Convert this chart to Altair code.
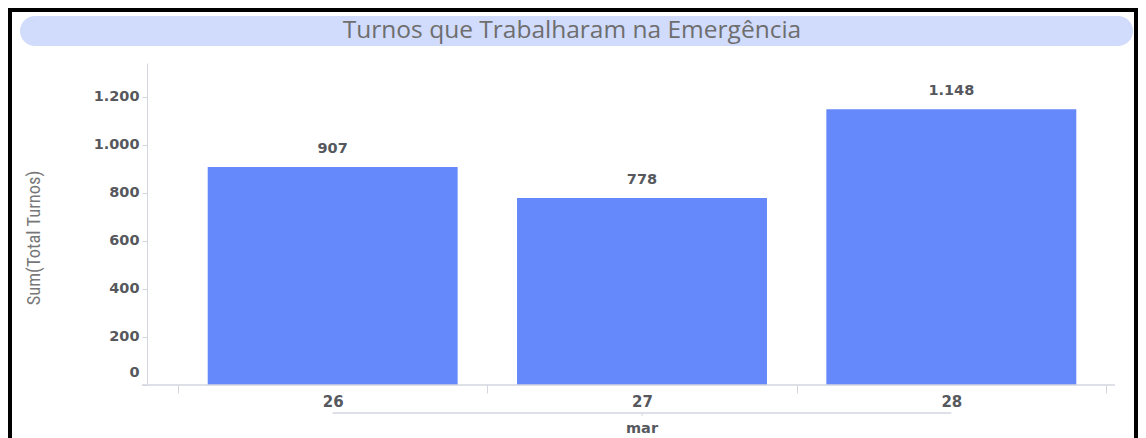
import altair as alt
import pandas as pd

# ---- data ----
DAYS = ["26", "27", "28"]
VALUES = [907, 778, 1148]
MONTH = "mar"
TITLE = "Turnos que Trabalharam na Emergência"
Y_TITLE = "Sum(Total Turnos)"
Y_TICKS = [0, 200, 400, 600, 800, 1000, 1200]

df = pd.DataFrame({"dia": DAYS, "valor": VALUES})
one = pd.DataFrame({"k": [0]})
title_df = pd.DataFrame({"t": [TITLE]})
ytitle_df = pd.DataFrame({"t": [Y_TITLE]})
month_df = pd.DataFrame({"mes": [MONTH], "dia": [DAYS[len(DAYS) // 2]]})

BAR = "#6589FA"
AXIS_GRAY = "#d3d6df"
LABEL = "#56585e"
NUMFONT = "DejaVu Sans"

W, H = 928, 322

xscale = alt.Scale(domain=DAYS, paddingInner=0, paddingOuter=0)
yscale = alt.Scale(domain=[0, 1340], nice=False)

border = alt.Chart(one).mark_rect(
    filled=False, stroke="black", strokeWidth=4, clip=False
).encode(x=alt.value(-168), x2=alt.value(958), y=alt.value(-53), y2=alt.value(420))

pill = alt.Chart(one).mark_rect(
    color="#d1dbfc", cornerRadius=15, clip=False
).encode(x=alt.value(-158), x2=alt.value(955), y=alt.value(-47), y2=alt.value(-17))

title = alt.Chart(title_df).mark_text(
    font="Open Sans", fontSize=24.5, color="#6e6e6e", align="center", baseline="alphabetic"
).encode(text="t:N", x=alt.value(394), y=alt.value(-25))

ytitle = alt.Chart(ytitle_df).mark_text(
    font="Liberation Sans Narrow, Roboto Condensed, Roboto", fontSize=18.5, color="#777777",
    angle=270, align="center", baseline="middle"
).encode(text="t:N", x=alt.value(-144), y=alt.value(175))

bars = alt.Chart(df).mark_bar(
    color=BAR, width=alt.RelativeBandSize(0.808)
).encode(
    x=alt.X("dia:N", scale=xscale, sort=DAYS, axis=alt.Axis(
        title=None, domain=False, labelAngle=0, tickBand="extent", ticks=True,
        tickSize=8, tickColor=AXIS_GRAY, labelFont=NUMFONT, labelFontWeight="bold",
        labelFontSize=15, labelColor=LABEL, labelPadding=1, labelBaseline="top")),
    y=alt.Y("valor:Q", scale=yscale, axis=alt.Axis(
        title=None, values=Y_TICKS, grid=False, offset=31,
        domainColor=AXIS_GRAY, tickColor=AXIS_GRAY, tickSize=5,
        labelFont=NUMFONT, labelFontWeight="bold", labelFontSize=14.5,
        labelColor=LABEL, labelPadding=3,
        labelExpr="replace(format(datum.value, ','), ',', '.')",
        labelOffset={"condition": {"test": "datum.value == 0", "value": -13}, "value": 0})),
)

labels = alt.Chart(df).transform_calculate(
    lbl="replace(format(datum.valor, ','), ',', '.')"
).mark_text(
    font=NUMFONT, fontWeight="bold", fontSize=14.5, color=LABEL, dy=-18, baseline="middle"
).encode(x=alt.X("dia:N", sort=DAYS), y="valor:Q", text="lbl:N")

xdomain = alt.Chart(one).mark_rule(color=AXIS_GRAY, strokeWidth=1.5, clip=False).encode(
    x=alt.value(-36), x2=alt.value(937), y=alt.value(H))

bracket = alt.Chart(df).mark_line(color=AXIS_GRAY, strokeWidth=1.5, clip=False).encode(
    x=alt.X("dia:N", sort=DAYS), y=alt.value(350))

mid_tick = alt.Chart(month_df).mark_rule(color=AXIS_GRAY, strokeWidth=1, clip=False).encode(
    x=alt.X("dia:N", sort=DAYS), y=alt.value(350), y2=alt.value(353))

month = alt.Chart(month_df).mark_text(
    font=NUMFONT, fontWeight="bold", fontSize=14.5, color=LABEL, baseline="middle", clip=False
).encode(x=alt.X("dia:N", sort=DAYS), y=alt.value(366), text="mes:N")

chart = alt.layer(
    border, pill, title, ytitle, bars, labels, xdomain, bracket, mid_tick, month
).properties(
    width=W, height=H,
    background="white",
    autosize=alt.AutoSizeParams(type="none"),
    padding={"left": 170, "top": 55, "right": 32, "bottom": 70},
).configure_view(strokeWidth=0, stroke=None)

chart.save("out.html", embed_options={"renderer": "svg", "actions": False})
